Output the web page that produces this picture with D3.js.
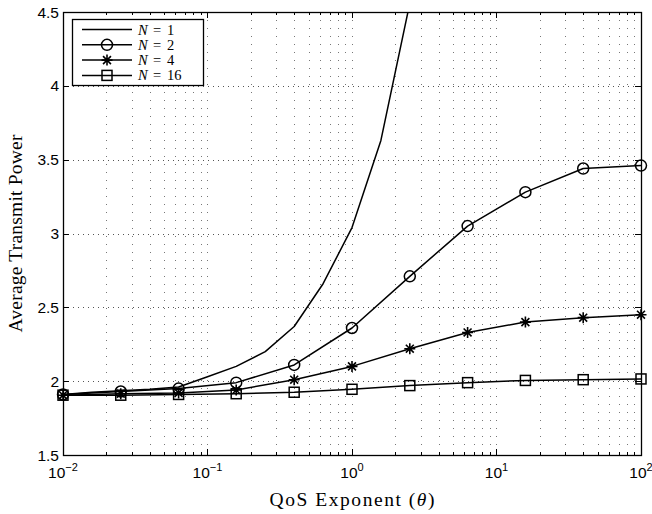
<!DOCTYPE html>
<html>
<head>
<meta charset="utf-8">
<script src="https://cdn.jsdelivr.net/npm/d3@7"></script>
<style>
  body { margin: 0; background: #fff; }
  svg { display: block; }
  .tick-label { font-family: "Liberation Sans", Arial, sans-serif; font-size: 15.5px; }
  .serif { font-family: "Liberation Serif", "Times New Roman", serif; }
</style>
</head>
<body>
<script>
// QoS exponent values (theta)
const thetaFine = [0.01, 0.0158, 0.0251, 0.0398, 0.0631, 0.1, 0.158, 0.251, 0.398, 0.631, 1, 1.585, 2.512];
const theta = [0.01, 0.0251, 0.0631, 0.158, 0.398, 1, 2.512, 6.31, 15.85, 39.81, 100];

const powerN1 = [1.91, 1.925, 1.935, 1.945, 1.96, 2.03, 2.10, 2.20, 2.37, 2.66, 3.04, 3.63, 4.56];
const powerN2 = [1.91, 1.93, 1.95, 1.99, 2.11, 2.36, 2.71, 3.05, 3.28, 3.44, 3.46];
const powerN4 = [1.905, 1.915, 1.92, 1.94, 2.01, 2.10, 2.22, 2.33, 2.40, 2.43, 2.45];
const powerN16 = [1.905, 1.905, 1.91, 1.915, 1.925, 1.945, 1.97, 1.99, 2.005, 2.01, 2.015];

const yTicks = [1.5, 2, 2.5, 3, 3.5, 4, 4.5];
const xDecades = [-2, -1, 0, 1, 2];
const legendLabels = ["1", "2", "4", "16"];

const width = 652, height = 514;
const margin = { left: 63, right: 11, top: 12, bottom: 59 };

const svg = d3.select("body").append("svg")
  .attr("width", width)
  .attr("height", height);

const x = d3.scaleLog()
  .domain([0.01, 100])
  .range([margin.left, width - margin.right]);

const y = d3.scaleLinear()
  .domain([1.5, 4.5])
  .range([height - margin.bottom, margin.top]);

const x0 = x.range()[0], x1 = x.range()[1];
const y0 = y.range()[0], y1 = y.range()[1];

// minor positions on log axis
let minorX = [];
for (let d = -2; d < 2; d++) {
  for (let k = 2; k <= 9; k++) minorX.push(k * Math.pow(10, d));
}
const majorX = xDecades.map(d => Math.pow(10, d));

// grid
const grid = svg.append("g");
grid.selectAll(".vgrid")
  .data(minorX.concat(majorX.slice(1, -1)))
  .enter().append("line")
  .attr("x1", d => Math.round(x(d)) + 0.5)
  .attr("x2", d => Math.round(x(d)) + 0.5)
  .attr("y1", y1)
  .attr("y2", y0)
  .attr("stroke", "#777")
  .attr("stroke-width", 1)
  .attr("stroke-dasharray", "1,7");

grid.selectAll(".hgrid")
  .data(yTicks.slice(1, -1))
  .enter().append("line")
  .attr("x1", x0)
  .attr("x2", x1)
  .attr("y1", d => Math.round(y(d)) + 0.5)
  .attr("y2", d => Math.round(y(d)) + 0.5)
  .attr("stroke", "#555")
  .attr("stroke-width", 1)
  .attr("stroke-dasharray", "1,4");

// ticks (inward, all four sides)
const ticks = svg.append("g").attr("stroke", "#000").attr("stroke-width", 1);
majorX.forEach(v => {
  const px = Math.round(x(v)) + 0.5;
  ticks.append("line").attr("x1", px).attr("x2", px).attr("y1", y0).attr("y2", y0 - 6);
  ticks.append("line").attr("x1", px).attr("x2", px).attr("y1", y1).attr("y2", y1 + 6);
});
minorX.forEach(v => {
  const px = Math.round(x(v)) + 0.5;
  ticks.append("line").attr("x1", px).attr("x2", px).attr("y1", y0).attr("y2", y0 - 3);
  ticks.append("line").attr("x1", px).attr("x2", px).attr("y1", y1).attr("y2", y1 + 3);
});
yTicks.forEach(v => {
  const py = Math.round(y(v)) + 0.5;
  ticks.append("line").attr("x1", x0).attr("x2", x0 + 6).attr("y1", py).attr("y2", py);
  ticks.append("line").attr("x1", x1).attr("x2", x1 - 6).attr("y1", py).attr("y2", py);
});

// box
svg.append("rect")
  .attr("x", x0 + 0.5).attr("y", y1 + 0.5)
  .attr("width", x1 - x0).attr("height", y0 - y1)
  .attr("fill", "none").attr("stroke", "#000").attr("stroke-width", 1.3);

// tick labels
svg.selectAll(".ylab")
  .data(yTicks)
  .enter().append("text")
  .attr("class", "tick-label")
  .attr("x", x0 - 4)
  .attr("y", d => y(d) + 5.5)
  .attr("text-anchor", "end")
  .text(d => d);

const xl = svg.selectAll(".xlab")
  .data(xDecades)
  .enter().append("text")
  .attr("class", "tick-label")
  .attr("x", d => x(Math.pow(10, d)))
  .attr("y", y0 + 23)
  .attr("text-anchor", "middle");
xl.append("tspan").text("10");
xl.append("tspan").attr("dy", -7).attr("font-size", 11).text(d => d < 0 ? "\u2212" + (-d) : d);

// axis titles
svg.append("text")
  .attr("class", "serif")
  .attr("x", (x0 + x1) / 2)
  .attr("y", 506)
  .attr("text-anchor", "middle")
  .attr("font-size", 19.5)
  .attr("textLength", 165)
  .attr("lengthAdjust", "spacing")
  .html("QoS Exponent (<tspan font-style='italic'>θ</tspan>)");

svg.append("text")
  .attr("class", "serif")
  .attr("transform", `translate(21.5,${(y0 + y1) / 2}) rotate(-90)`)
  .attr("text-anchor", "middle")
  .attr("font-size", 19.5)
  .attr("textLength", 198)
  .attr("lengthAdjust", "spacing")
  .text("Average Transmit Power");

// clip
svg.append("defs").append("clipPath").attr("id", "plotclip")
  .append("rect").attr("x", x0).attr("y", y1).attr("width", x1 - x0).attr("height", y0 - y1);

const line = d3.line().x(d => x(d[0])).y(d => y(d[1]));

const series = [
  { xs: thetaFine, ys: powerN1, marker: "none" },
  { xs: theta, ys: powerN2, marker: "circle" },
  { xs: theta, ys: powerN4, marker: "star" },
  { xs: theta, ys: powerN16, marker: "square" }
];

const plot = svg.append("g").attr("clip-path", "url(#plotclip)");
const markers = svg.append("g");

function drawMarker(g, type, cx, cy) {
  if (type === "circle") {
    g.append("circle").attr("cx", cx).attr("cy", cy).attr("r", 5.5)
      .attr("fill", "none").attr("stroke", "#000").attr("stroke-width", 1.5);
  } else if (type === "square") {
    g.append("rect").attr("x", cx - 5).attr("y", cy - 5).attr("width", 10).attr("height", 10)
      .attr("fill", "none").attr("stroke", "#000").attr("stroke-width", 1.5);
  } else if (type === "star") {
    const r = 5.5, d = r * 0.72;
    g.append("path")
      .attr("d", `M${cx - r},${cy}H${cx + r}M${cx},${cy - r}V${cy + r}M${cx - d},${cy - d}L${cx + d},${cy + d}M${cx - d},${cy + d}L${cx + d},${cy - d}`)
      .attr("stroke", "#000").attr("stroke-width", 1.6).attr("fill", "none");
  }
}

series.forEach(s => {
  const pts = s.xs.map((v, i) => [v, s.ys[i]]);
  plot.append("path")
    .datum(pts)
    .attr("d", line)
    .attr("fill", "none")
    .attr("stroke", "#000")
    .attr("stroke-width", 1.5)
    .attr("stroke-linejoin", "round");
  if (s.marker !== "none") {
    pts.forEach(p => drawMarker(markers, s.marker, x(p[0]), y(p[1])));
  }
});

// legend
const lg = svg.append("g");
lg.append("rect")
  .attr("x", 72.5).attr("y", 19.5).attr("width", 131).attr("height", 66)
  .attr("fill", "#fff").attr("stroke", "#000").attr("stroke-width", 1.3);
series.forEach((s, i) => {
  const ly = 29.5 + i * 15.3;
  lg.append("line").attr("x1", 82).attr("x2", 132).attr("y1", ly).attr("y2", ly)
    .attr("stroke", "#000").attr("stroke-width", 1.5);
  drawMarker(lg, s.marker, 107, ly);
  const ty = ly + 5;
  lg.append("text").attr("class", "serif").attr("x", 138).attr("y", ty)
    .attr("font-size", 14.5).attr("font-style", "italic").text("N");
  lg.append("text").attr("class", "serif").attr("x", 153).attr("y", ty)
    .attr("font-size", 14.5).text("=");
  lg.append("text").attr("class", "serif").attr("x", 167).attr("y", ty)
    .attr("font-size", 14.5).text(legendLabels[i]);
});
</script>
</body>
</html>
